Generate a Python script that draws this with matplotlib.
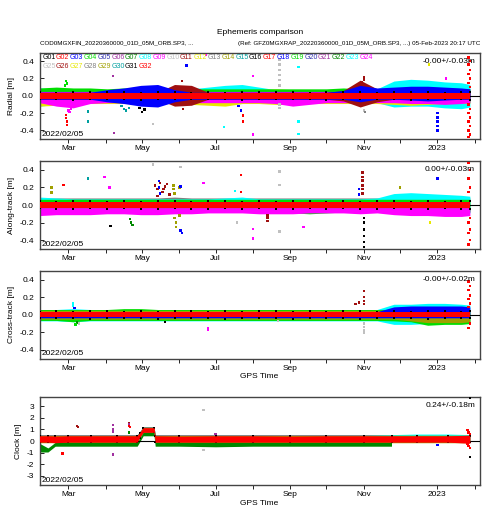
import numpy as np
import matplotlib
matplotlib.use('Agg')
import matplotlib.pyplot as plt
import matplotlib.dates as mdates
from matplotlib.ticker import FuncFormatter

plt.rcParams['font.family'] = ['Liberation Sans', 'DejaVu Sans']
plt.rcParams['axes.unicode_minus'] = False

# satellites and their plot colours (15 colour cycle)
sats = ['G%02d' % i for i in range(1, 33)]
palette = ['#000000', '#ff0000', '#0000ff', '#00dd00', '#3030b0', '#a030a0',
           '#008800', '#00ffff', '#ff00ff', '#c0c0c0', '#a01010', '#e8e800',
           '#808080', '#a0a000', '#00a0a0']

title = 'Ephemeris comparison'
file_left = 'COD0MGXFIN_20220360000_01D_05M_ORB.SP3, ...'
file_right = '(Ref: GFZ0MGXRAP_20220360000_01D_05M_ORB.SP3, ...) 05-Feb-2023 20:17 UTC'
start_label = '2022/02/05'
stats = ['-0.00+/-0.03m', '0.00+/-0.03m', '-0.00+/-0.02m', '0.24+/-0.18m']
ylabels = ['Radial [m]', 'Along-track [m]', 'Cross-track [m]', 'Clock [m]']

# biweekly sample dates of the orbit residual envelopes
grid = ['2022-02-05', '2022-02-19', '2022-03-05', '2022-03-19', '2022-04-02',
        '2022-04-16', '2022-04-30', '2022-05-14', '2022-05-28', '2022-06-11',
        '2022-06-25', '2022-07-09', '2022-07-23', '2022-08-06', '2022-08-20',
        '2022-09-03', '2022-09-17', '2022-10-01', '2022-10-15', '2022-10-29',
        '2022-11-12', '2022-11-26', '2022-12-10', '2022-12-24', '2023-01-07',
        '2023-01-21', '2023-01-28']

# ---- radial envelopes [m]
rad_g08_hi = [0.09, 0.08, 0.08, 0.07, 0.07, 0.07, 0.07, 0.07, 0.07,
              0.08, 0.10, 0.12, 0.13, 0.10, 0.07, 0.07, 0.07, 0.07,
              0.07, 0.07, 0.08, 0.17, 0.19, 0.18, 0.16, 0.15, 0.13]
rad_g08_lo = [-0.12, -0.10, -0.08, -0.08, -0.08, -0.08, -0.08, -0.08, -0.08,
              -0.08, -0.09, -0.10, -0.09, -0.08, -0.08, -0.08, -0.08, -0.08,
              -0.08, -0.08, -0.08, -0.13, -0.12, -0.12, -0.14, -0.15, -0.13]
rad_g12_hi = [0.07, 0.07, 0.07, 0.07, 0.07, 0.07, 0.07, 0.07, 0.07,
              0.07, 0.07, 0.07, 0.07, 0.07, 0.08, 0.07, 0.07, 0.07,
              0.07, 0.07, 0.07, 0.07, 0.07, 0.07, 0.07, 0.07, 0.07]
rad_g12_lo = [-0.12, -0.11, -0.09, -0.09, -0.09, -0.09, -0.09, -0.09, -0.09,
              -0.10, -0.11, -0.12, -0.09, -0.09, -0.10, -0.10, -0.09, -0.09,
              -0.09, -0.09, -0.09, -0.10, -0.11, -0.10, -0.09, -0.09, -0.09]
rad_g04_hi = [0.09, 0.10, 0.09, 0.09, 0.08, 0.09, 0.08, 0.08, 0.08,
              0.08, 0.08, 0.08, 0.08, 0.08, 0.08, 0.08, 0.08, 0.08,
              0.09, 0.08, 0.08, 0.08, 0.08, 0.08, 0.08, 0.08, 0.08]
rad_g04_lo = [-0.07, -0.07, -0.07, -0.07, -0.07, -0.07, -0.07, -0.07, -0.07,
              -0.07, -0.07, -0.07, -0.07, -0.07, -0.07, -0.07, -0.07, -0.07,
              -0.07, -0.07, -0.07, -0.07, -0.07, -0.07, -0.07, -0.07, -0.07]
rad_g09_hi = [0.05, 0.05, 0.05, 0.05, 0.05, 0.05, 0.05, 0.05, 0.05,
              0.05, 0.05, 0.05, 0.05, 0.05, 0.05, 0.05, 0.05, 0.05,
              0.05, 0.05, 0.05, 0.05, 0.05, 0.05, 0.05, 0.05, 0.05]
rad_g09_lo = [-0.08, -0.12, -0.14, -0.09, -0.08, -0.08, -0.08, -0.08, -0.08,
              -0.08, -0.08, -0.08, -0.08, -0.08, -0.09, -0.12, -0.10, -0.08,
              -0.08, -0.08, -0.08, -0.08, -0.09, -0.09, -0.10, -0.09, -0.08]
rad_g11_hi = [0.04, 0.04, 0.04, 0.04, 0.04, 0.04, 0.04, 0.04, 0.13,
              0.12, 0.04, 0.04, 0.04, 0.04, 0.04, 0.04, 0.04, 0.04,
              0.06, 0.18, 0.08, 0.04, 0.04, 0.04, 0.04, 0.04, 0.04]
rad_g11_lo = [-0.04, -0.04, -0.04, -0.04, -0.04, -0.04, -0.04, -0.04, -0.12,
              -0.11, -0.04, -0.04, -0.04, -0.04, -0.04, -0.04, -0.04, -0.04,
              -0.06, -0.13, -0.07, -0.04, -0.04, -0.04, -0.04, -0.04, -0.04]
rad_g03_hi = [0.04, 0.04, 0.04, 0.04, 0.07, 0.09, 0.12, 0.13, 0.07,
              0.04, 0.04, 0.04, 0.04, 0.04, 0.04, 0.04, 0.04, 0.04,
              0.06, 0.12, 0.09, 0.10, 0.11, 0.11, 0.10, 0.09, 0.08]
rad_g03_lo = [-0.04, -0.04, -0.04, -0.04, -0.07, -0.09, -0.12, -0.13, -0.07,
              -0.04, -0.04, -0.04, -0.04, -0.04, -0.04, -0.04, -0.04, -0.04,
              -0.04, -0.07, -0.04, -0.04, -0.05, -0.06, -0.05, -0.04, -0.04]
rad_g01_hi = [0.040, 0.036, 0.042, 0.038, 0.044, 0.040, 0.036, 0.045, 0.040,
              0.037, 0.041, 0.036, 0.043, 0.045, 0.038, 0.041, 0.036, 0.042,
              0.045, 0.040, 0.037, 0.042, 0.045, 0.041, 0.036, 0.042, 0.038]
rad_g01_lo = [-0.040, -0.036, -0.045, -0.041, -0.037, -0.042, -0.045, -0.040, -0.036,
              -0.041, -0.037, -0.042, -0.045, -0.036, -0.041, -0.037, -0.042, -0.045,
              -0.036, -0.041, -0.038, -0.042, -0.045, -0.041, -0.036, -0.042, -0.045]
rad_g32_hi = [0.033, 0.033, 0.033, 0.033, 0.033, 0.033, 0.033, 0.033, 0.033,
              0.033, 0.033, 0.033, 0.033, 0.033, 0.033, 0.033, 0.033, 0.033,
              0.033, 0.033, 0.033, 0.033, 0.033, 0.033, 0.033, 0.033, 0.033]
rad_g32_lo = [-0.033, -0.033, -0.033, -0.033, -0.033, -0.033, -0.033, -0.033, -0.033,
              -0.033, -0.033, -0.033, -0.033, -0.033, -0.033, -0.033, -0.033, -0.033,
              -0.033, -0.033, -0.033, -0.033, -0.033, -0.033, -0.033, -0.033, -0.033]
rad_out_dates = ['2022-02-27', '2022-02-28', '2022-02-26', '2022-02-27', '2022-02-27',
                 '2022-02-28', '2022-02-28', '2022-03-01', '2022-03-02', '2022-03-03',
                 '2022-03-17', '2022-03-17', '2022-04-07', '2022-04-08', '2022-04-14',
                 '2022-04-16', '2022-04-18', '2022-04-20', '2022-05-01', '2022-05-03',
                 '2022-04-29', '2022-05-10', '2022-06-03', '2022-06-04', '2022-06-07',
                 '2022-06-23', '2022-07-08', '2022-07-22', '2022-07-20', '2022-07-24',
                 '2022-07-24', '2022-08-01', '2022-08-01', '2022-08-23', '2022-08-23',
                 '2022-08-23', '2022-08-23', '2022-08-23', '2022-08-23', '2022-08-23',
                 '2022-08-23', '2022-09-08', '2022-09-08', '2022-09-08', '2022-11-01',
                 '2022-11-01', '2022-10-30', '2022-11-01', '2022-11-02', '2022-12-25',
                 '2023-01-01', '2023-01-01', '2023-01-01', '2023-01-01', '2023-01-01',
                 '2023-01-08', '2023-01-27', '2023-01-28', '2023-01-27', '2023-01-28',
                 '2023-01-27', '2023-01-28', '2023-01-27', '2023-01-28', '2023-01-27',
                 '2023-01-28', '2023-01-27', '2023-01-28', '2023-01-27', '2023-01-28',
                 '2023-01-27', '2023-01-28', '2023-01-27']
rad_out_sats = ['G04', 'G04', 'G04', 'G02', 'G02', 'G02', 'G02', 'G09', 'G09', 'G09',
                'G15', 'G15', 'G06', 'G06', 'G15', 'G15', 'G15', 'G15', 'G01', 'G01',
                'G01', 'G10', 'G11', 'G11', 'G03', 'G09', 'G08', 'G03', 'G03', 'G02',
                'G02', 'G09', 'G09', 'G10', 'G10', 'G10', 'G10', 'G10', 'G10', 'G10',
                'G10', 'G08', 'G08', 'G08', 'G11', 'G11', 'G11', 'G10', 'G13', 'G12',
                'G03', 'G03', 'G03', 'G03', 'G03', 'G09', 'G32', 'G32', 'G32', 'G32',
                'G32', 'G32', 'G32', 'G32', 'G32', 'G32', 'G32', 'G32', 'G32', 'G32',
                'G32', 'G32', 'G32']
rad_out_vals = [0.17, 0.14, 0.12, -0.22, -0.26, -0.30, -0.34, -0.17, -0.19, -0.15,
                -0.18, -0.30, 0.23, -0.43, -0.12, -0.15, -0.17, -0.14, -0.19, -0.16,
                -0.14, -0.33, 0.17, -0.15, 0.35, 0.47, -0.36, -0.17, -0.12, -0.23,
                -0.30, 0.23, -0.45, 0.42, 0.36, 0.30, 0.24, 0.18, 0.12, -0.10,
                -0.14, 0.33, -0.30, -0.44, 0.22, 0.19, 0.16, -0.17, -0.19, 0.36,
                -0.20, -0.25, -0.30, -0.35, -0.40, 0.20, 0.44, 0.40, 0.36, 0.30,
                0.25, 0.20, 0.15, 0.10, -0.10, -0.15, -0.20, -0.25, -0.30, -0.35,
                -0.40, -0.45, -0.48]

# ---- along-track envelopes [m]
al_g13_hi = [0.08, 0.08, 0.08, 0.08, 0.08, 0.08, 0.08, 0.08, 0.09,
             0.08, 0.08, 0.08, 0.08, 0.08, 0.08, 0.08, 0.08, 0.08,
             0.08, 0.08, 0.08, 0.08, 0.08, 0.08, 0.08, 0.08, 0.08]
al_g13_lo = [-0.06, -0.06, -0.06, -0.06, -0.06, -0.06, -0.06, -0.06, -0.06,
             -0.06, -0.06, -0.06, -0.06, -0.06, -0.06, -0.06, -0.06, -0.06,
             -0.06, -0.06, -0.06, -0.06, -0.06, -0.06, -0.06, -0.06, -0.06]
al_g08_hi = [0.09, 0.08, 0.07, 0.07, 0.07, 0.07, 0.07, 0.07, 0.07,
             0.07, 0.07, 0.08, 0.09, 0.07, 0.07, 0.07, 0.07, 0.07,
             0.07, 0.07, 0.08, 0.13, 0.14, 0.13, 0.12, 0.11, 0.10]
al_g08_lo = [-0.07, -0.07, -0.07, -0.07, -0.07, -0.07, -0.07, -0.07, -0.07,
             -0.07, -0.07, -0.07, -0.07, -0.07, -0.07, -0.07, -0.07, -0.07,
             -0.07, -0.07, -0.07, -0.09, -0.10, -0.10, -0.10, -0.09, -0.09]
al_g04_hi = [0.065, 0.065, 0.065, 0.065, 0.065, 0.065, 0.065, 0.065, 0.065,
             0.065, 0.065, 0.065, 0.065, 0.065, 0.065, 0.065, 0.065, 0.065,
             0.065, 0.065, 0.065, 0.065, 0.065, 0.065, 0.065, 0.065, 0.065]
al_g04_lo = [-0.08, -0.08, -0.08, -0.08, -0.08, -0.09, -0.09, -0.08, -0.08,
             -0.08, -0.08, -0.08, -0.08, -0.08, -0.08, -0.09, -0.10, -0.09,
             -0.08, -0.08, -0.08, -0.08, -0.08, -0.08, -0.08, -0.08, -0.08]
al_g09_hi = [-0.03, -0.03, -0.03, -0.03, -0.03, -0.03, -0.03, -0.03, -0.03,
             -0.03, -0.03, -0.03, -0.03, -0.03, -0.03, -0.03, -0.03, -0.03,
             -0.03, -0.03, -0.03, -0.03, -0.03, -0.03, -0.03, -0.03, -0.03]
al_g09_lo = [-0.12, -0.11, -0.11, -0.11, -0.10, -0.10, -0.11, -0.11, -0.10,
             -0.10, -0.09, -0.09, -0.09, -0.10, -0.10, -0.10, -0.09, -0.09,
             -0.09, -0.10, -0.09, -0.11, -0.12, -0.12, -0.13, -0.13, -0.12]
al_g01_hi = [0.040, 0.036, 0.042, 0.045, 0.037, 0.041, 0.036, 0.045, 0.040,
             0.037, 0.041, 0.045, 0.036, 0.042, 0.038, 0.041, 0.045, 0.037,
             0.042, 0.036, 0.041, 0.045, 0.037, 0.042, 0.036, 0.045, 0.040]
al_g01_lo = [-0.037, -0.041, -0.045, -0.036, -0.042, -0.038, -0.045, -0.041, -0.036,
             -0.042, -0.045, -0.037, -0.041, -0.036, -0.042, -0.045, -0.037, -0.041,
             -0.036, -0.045, -0.042, -0.037, -0.041, -0.045, -0.036, -0.042, -0.045]
al_g32_hi = [0.033, 0.033, 0.033, 0.033, 0.033, 0.033, 0.033, 0.033, 0.033,
             0.033, 0.033, 0.033, 0.033, 0.033, 0.033, 0.033, 0.033, 0.033,
             0.033, 0.033, 0.033, 0.033, 0.033, 0.033, 0.033, 0.033, 0.033]
al_g32_lo = [-0.033, -0.033, -0.033, -0.033, -0.033, -0.033, -0.033, -0.033, -0.033,
             -0.033, -0.033, -0.033, -0.033, -0.033, -0.033, -0.033, -0.033, -0.033,
             -0.033, -0.033, -0.033, -0.033, -0.033, -0.033, -0.033, -0.033, -0.033]
al_out_dates = ['2022-02-15', '2022-02-15', '2022-02-25', '2022-03-17', '2022-03-31',
                '2022-04-04', '2022-04-05', '2022-04-22', '2022-04-23', '2022-04-21',
                '2022-05-10', '2022-05-12', '2022-05-14', '2022-05-16', '2022-05-18',
                '2022-05-20', '2022-05-22', '2022-05-24', '2022-05-14', '2022-05-19',
                '2022-05-15', '2022-05-15', '2022-05-16', '2022-05-27', '2022-05-27',
                '2022-05-28', '2022-05-28', '2022-05-29', '2022-05-29', '2022-06-01',
                '2022-06-01', '2022-06-02', '2022-06-02', '2022-06-03', '2022-06-02',
                '2022-06-21', '2022-07-19', '2022-07-17', '2022-07-22', '2022-07-22',
                '2022-08-01', '2022-08-01', '2022-08-13', '2022-08-13', '2022-08-13',
                '2022-08-23', '2022-08-23', '2022-08-23', '2022-09-12', '2022-10-31',
                '2022-10-31', '2022-10-31', '2022-10-31', '2022-10-31', '2022-10-31',
                '2022-11-01', '2022-11-01', '2022-11-01', '2022-11-01', '2022-11-01',
                '2022-11-01', '2022-10-28', '2022-10-28', '2022-12-01', '2023-01-01',
                '2022-12-26', '2023-01-27', '2023-01-28', '2023-01-27', '2023-01-28',
                '2023-01-27', '2023-01-28', '2023-01-27', '2023-01-28', '2023-01-27',
                '2023-01-28', '2023-01-27']
al_out_sats = ['G14', 'G14', 'G02', 'G15', 'G09', 'G09', 'G01', 'G07', 'G07', 'G07',
               'G10', 'G11', 'G11', 'G11', 'G11', 'G11', 'G11', 'G11', 'G11', 'G11',
               'G03', 'G03', 'G03', 'G14', 'G14', 'G14', 'G14', 'G14', 'G14', 'G14',
               'G14', 'G03', 'G03', 'G03', 'G10', 'G09', 'G10', 'G08', 'G02', 'G02',
               'G09', 'G09', 'G11', 'G11', 'G11', 'G10', 'G10', 'G10', 'G09', 'G11',
               'G11', 'G11', 'G11', 'G11', 'G11', 'G01', 'G01', 'G01', 'G01', 'G01',
               'G01', 'G03', 'G03', 'G14', 'G03', 'G12', 'G32', 'G32', 'G32', 'G32',
               'G32', 'G32', 'G32', 'G32', 'G32', 'G32', 'G32']
al_out_vals = [0.20, 0.14, 0.23, 0.30, 0.32, 0.20, -0.24, -0.20, -0.23, -0.16,
               0.46, 0.22, 0.18, 0.25, 0.15, 0.21, 0.24, 0.12, 0.10, 0.18,
               0.27, 0.20, 0.13, 0.22, 0.18, 0.13, -0.15, -0.20, -0.25, 0.20,
               -0.12, 0.21, -0.29, -0.32, 0.43, 0.25, -0.20, 0.16, 0.34, 0.15,
               -0.27, -0.38, -0.12, -0.15, -0.18, 0.38, 0.23, -0.30, -0.25, 0.37,
               0.32, 0.28, 0.22, 0.18, 0.13, -0.15, -0.20, -0.28, -0.35, -0.42,
               -0.48, 0.18, 0.12, 0.20, 0.30, -0.20, 0.48, 0.40, 0.30, 0.20,
               0.15, -0.15, -0.20, -0.28, -0.32, -0.40, -0.45]

# ---- cross-track envelopes [m]
cr_g08_hi = [0.06, 0.06, 0.07, 0.06, 0.06, 0.06, 0.06, 0.06, 0.06,
             0.06, 0.06, 0.06, 0.06, 0.06, 0.06, 0.06, 0.06, 0.06,
             0.06, 0.06, 0.06, 0.12, 0.12, 0.13, 0.13, 0.12, 0.11]
cr_g08_lo = [-0.07, -0.07, -0.08, -0.07, -0.07, -0.07, -0.07, -0.07, -0.07,
             -0.07, -0.07, -0.07, -0.07, -0.07, -0.07, -0.07, -0.07, -0.07,
             -0.07, -0.07, -0.07, -0.11, -0.11, -0.10, -0.09, -0.09, -0.08]
cr_g04_hi = [0.06, 0.06, 0.06, 0.06, 0.06, 0.07, 0.07, 0.06, 0.06,
             0.06, 0.06, 0.06, 0.06, 0.06, 0.06, 0.06, 0.06, 0.06,
             0.06, 0.06, 0.06, 0.06, 0.06, 0.06, 0.06, 0.06, 0.06]
cr_g04_lo = [-0.065, -0.065, -0.08, -0.065, -0.065, -0.065, -0.065, -0.065, -0.065,
             -0.065, -0.065, -0.065, -0.065, -0.065, -0.065, -0.065, -0.065, -0.065,
             -0.065, -0.065, -0.065, -0.07, -0.08, -0.12, -0.11, -0.11, -0.10]
cr_g14_hi = [0.05, 0.05, 0.05, 0.05, 0.05, 0.05, 0.05, 0.05, 0.05,
             0.05, 0.05, 0.05, 0.05, 0.05, 0.05, 0.05, 0.05, 0.05,
             0.05, 0.05, 0.05, 0.05, 0.05, 0.05, 0.05, 0.05, 0.05]
cr_g14_lo = [-0.05, -0.05, -0.05, -0.05, -0.05, -0.05, -0.05, -0.05, -0.05,
             -0.05, -0.05, -0.05, -0.05, -0.05, -0.05, -0.05, -0.05, -0.05,
             -0.05, -0.05, -0.05, -0.05, -0.07, -0.09, -0.09, -0.09, -0.08]
cr_g03_hi = [0.035, 0.035, 0.035, 0.035, 0.035, 0.035, 0.035, 0.035, 0.035,
             0.035, 0.035, 0.035, 0.035, 0.035, 0.035, 0.035, 0.035, 0.035,
             0.035, 0.035, 0.035, 0.09, 0.10, 0.10, 0.10, 0.10, 0.09]
cr_g03_lo = [-0.035, -0.035, -0.035, -0.035, -0.035, -0.035, -0.035, -0.035, -0.035,
             -0.035, -0.035, -0.035, -0.035, -0.035, -0.035, -0.035, -0.035, -0.035,
             -0.035, -0.035, -0.035, -0.035, -0.035, -0.035, -0.035, -0.035, -0.035]
cr_g01_hi = [0.036, 0.041, 0.037, 0.042, 0.045, 0.036, 0.041, 0.037, 0.042,
             0.045, 0.036, 0.041, 0.037, 0.042, 0.045, 0.036, 0.041, 0.037,
             0.042, 0.045, 0.036, 0.041, 0.037, 0.042, 0.045, 0.036, 0.041]
cr_g01_lo = [-0.036, -0.041, -0.037, -0.045, -0.042, -0.036, -0.041, -0.045, -0.037,
             -0.042, -0.036, -0.045, -0.041, -0.037, -0.042, -0.045, -0.036, -0.041,
             -0.037, -0.045, -0.042, -0.036, -0.041, -0.045, -0.037, -0.042, -0.036]
cr_g32_hi = [0.032, 0.032, 0.032, 0.032, 0.032, 0.032, 0.032, 0.032, 0.032,
             0.032, 0.032, 0.032, 0.032, 0.032, 0.032, 0.032, 0.032, 0.032,
             0.032, 0.032, 0.032, 0.032, 0.032, 0.032, 0.032, 0.032, 0.032]
cr_g32_lo = [-0.030, -0.030, -0.030, -0.030, -0.030, -0.030, -0.030, -0.030, -0.030,
             -0.030, -0.030, -0.030, -0.030, -0.030, -0.030, -0.030, -0.030, -0.030,
             -0.030, -0.030, -0.030, -0.030, -0.030, -0.030, -0.030, -0.030, -0.030]
cr_out_dates = ['2022-03-05', '2022-03-05', '2022-03-06', '2022-03-08', '2022-03-07',
                '2022-03-10', '2022-05-20', '2022-06-25', '2022-06-25', '2022-10-25',
                '2022-10-28', '2022-11-01', '2022-11-01', '2022-11-01', '2022-11-01',
                '2022-11-01', '2022-11-01', '2022-11-01', '2022-11-01', '2022-08-22',
                '2023-01-27', '2023-01-28', '2023-01-27', '2023-01-28', '2023-01-27',
                '2023-01-28', '2023-01-27', '2023-01-28', '2023-01-27']
cr_out_sats = ['G08', 'G08', 'G03', 'G07', 'G04', 'G10', 'G01', 'G09', 'G09', 'G11',
               'G11', 'G11', 'G11', 'G11', 'G11', 'G10', 'G10', 'G10', 'G10', 'G10',
               'G32', 'G32', 'G32', 'G32', 'G32', 'G32', 'G32', 'G32', 'G32']
cr_out_vals = [0.13, 0.10, 0.08, -0.09, -0.11, -0.10, -0.08, -0.15, -0.17, 0.12,
               0.14, 0.27, 0.20, 0.16, 0.12, -0.10, -0.14, -0.18, -0.21, -0.07,
               0.38, 0.33, 0.28, 0.22, 0.18, 0.13, 0.09, -0.10, -0.15]

# ---- clock envelopes [m]
clk_dates = ['2022-02-05', '2022-02-12', '2022-02-18', '2022-03-01', '2022-03-20',
             '2022-04-10', '2022-04-27', '2022-04-29', '2022-05-02', '2022-05-11',
             '2022-05-12', '2022-06-01', '2022-07-01', '2022-08-01', '2022-09-01',
             '2022-10-01', '2022-11-01', '2022-11-24', '2022-12-15', '2023-01-10',
             '2023-01-28']
clk_g06_hi = [0.55, 0.55, 0.55, 0.55, 0.55, 0.55, 0.55, 0.80, 1.25, 1.25, 0.55,
              0.55, 0.55, 0.55, 0.55, 0.55, 0.55, 0.55, 0.55, 0.55, 0.55]
clk_g06_lo = [-0.12, -0.12, -0.12, -0.12, -0.12, -0.12, -0.12, 0.25, 0.70, 0.70, -0.12,
              -0.12, -0.12, -0.12, -0.12, -0.12, -0.12, -0.12, -0.12, -0.12, -0.12]
clk_g08_hi = [0.50, 0.50, 0.50, 0.50, 0.50, 0.50, 0.50, 0.75, 1.20, 1.20, 0.50,
              0.50, 0.50, 0.50, 0.50, 0.50, 0.50, 0.55, 0.60, 0.60, 0.55]
clk_g08_lo = [-0.10, -0.10, -0.10, -0.10, -0.10, -0.10, -0.10, 0.25, 0.70, 0.70, -0.10,
              -0.10, -0.10, -0.10, -0.10, -0.10, -0.10, -0.10, -0.12, -0.12, -0.12]
clk_g14_hi = [0.50, 0.50, 0.50, 0.50, 0.50, 0.50, 0.50, 0.75, 1.20, 1.20, 0.50,
              0.50, 0.50, 0.50, 0.50, 0.50, 0.50, 0.50, 0.50, 0.50, 0.50]
clk_g14_lo = [-0.15, -0.15, -0.15, -0.15, -0.15, -0.15, -0.15, 0.25, 0.70, 0.70, -0.15,
              -0.15, -0.15, -0.15, -0.15, -0.15, -0.15, -0.15, -0.15, -0.15, -0.15]
clk_g07_dates = ['2022-02-05', '2022-02-12', '2022-02-18', '2022-03-01', '2022-03-20',
                 '2022-04-10', '2022-04-27', '2022-04-29', '2022-05-02', '2022-05-11',
                 '2022-05-12', '2022-06-01', '2022-07-01', '2022-08-01', '2022-09-01',
                 '2022-10-01', '2022-11-01', '2022-11-24']
clk_g07_hi = [-0.20, -0.60, -0.12, -0.12, -0.12, -0.12, -0.12, 0.20, 0.75, 0.75,
              -0.12, -0.12, -0.12, -0.12, -0.12, -0.12, -0.12, -0.12]
clk_g07_lo = [-0.95, -0.95, -0.45, -0.45, -0.45, -0.45, -0.45, -0.10, 0.45, 0.45,
              -0.45, -0.45, -0.50, -0.45, -0.45, -0.45, -0.45, -0.45]
clk_g01_hi = [0.45, 0.40, 0.45, 0.40, 0.45, 0.40, 0.45, 0.70, 1.15, 1.10, 0.45,
              0.40, 0.45, 0.40, 0.45, 0.40, 0.45, 0.40, 0.45, 0.40, 0.45]
clk_g01_lo = [-0.10, -0.05, -0.10, -0.05, -0.10, -0.05, -0.10, 0.30, 0.75, 0.75, -0.05,
              -0.10, -0.05, -0.10, -0.05, -0.10, -0.05, -0.10, -0.05, -0.10, -0.05]
clk_g32_hi = [0.45, 0.45, 0.42, 0.45, 0.45, 0.45, 0.45, 0.70, 1.15, 1.15, 0.45,
              0.42, 0.45, 0.45, 0.42, 0.45, 0.45, 0.45, 0.45, 0.45, 0.50]
clk_g32_lo = [-0.10, -0.10, -0.15, -0.10, -0.10, -0.10, -0.10, 0.30, 0.75, 0.75, -0.10,
              -0.10, -0.10, -0.10, -0.10, -0.10, -0.10, -0.10, -0.10, -0.10, -0.20]
clk_out_dates = ['2022-02-24', '2022-03-08', '2022-03-09', '2022-04-07', '2022-04-07',
                 '2022-04-07', '2022-04-07', '2022-04-20', '2022-04-20', '2022-04-21',
                 '2022-04-20', '2022-04-20', '2022-06-21', '2022-06-21', '2022-07-01',
                 '2023-01-01', '2023-01-28', '2023-01-28', '2023-01-26', '2023-01-27',
                 '2023-01-28', '2023-01-26', '2023-01-27', '2023-01-28']
clk_out_sats = ['G02', 'G11', 'G11', 'G06', 'G06', 'G06', 'G06', 'G11', 'G02', 'G02',
                'G06', 'G07', 'G10', 'G10', 'G06', 'G03', 'G01', 'G01', 'G32', 'G32',
                'G32', 'G32', 'G32', 'G32']
clk_out_vals = [-1.07, 1.30, 1.22, 1.40, 1.00, 0.80, -1.15, 1.50, 1.30, 1.20,
                1.45, 0.75, 2.70, -0.80, 0.60, -0.35, 3.75, -1.40, 0.95, 0.75,
                0.60, -0.25, -0.45, -0.60]


def sat_color(s):
    return palette[(int(s[1:]) - 1) % len(palette)]


def dt(lst):
    return np.array(lst, dtype='datetime64[h]')


def month_fmt(x, pos):
    d = mdates.num2date(x)
    return str(d.year) if d.month == 1 else d.strftime('%b')


def draw_panel(ax, dates, layers, g01, g32, outs, ylim, yticks, yfmt,
               ylabel, stat, gps_label):
    x = dt(dates)
    for sat, hi, lo, xd in layers:
        xx = dt(xd) if xd is not None else x
        ax.fill_between(xx, lo, hi, color=sat_color(sat), lw=0, zorder=2)
    ax.axhline(0, color='black', lw=0.8, zorder=3)
    ax.scatter(x, g01[0], s=2, marker='s', color=sat_color('G01'), lw=0, zorder=3)
    ax.scatter(x, g01[1], s=2, marker='s', color=sat_color('G01'), lw=0, zorder=3)
    ax.fill_between(x, g32[1], g32[0], color=sat_color('G32'), lw=0, zorder=4)
    od, os_, ov = outs
    ax.scatter(dt(od), ov, s=3, marker='s', lw=0, zorder=5,
               c=[sat_color(s) for s in os_])

    ax.set_xlim(np.datetime64('2022-02-05'), np.datetime64('2023-02-05'))
    ax.set_ylim(*ylim)
    ax.set_yticks(yticks)
    ax.yaxis.set_major_formatter(FuncFormatter(lambda v, p: yfmt % v))
    ax.xaxis.set_major_locator(mdates.MonthLocator(bymonth=[1, 3, 5, 7, 9, 11]))
    ax.xaxis.set_minor_locator(mdates.MonthLocator(bymonth=[2, 4, 6, 8, 10, 12]))
    ax.xaxis.set_major_formatter(FuncFormatter(month_fmt))
    ax.tick_params(axis='x', which='both', direction='out', length=3, width=0.6,
                   labelsize=6, pad=1.5)
    ax.tick_params(axis='y', direction='in', length=3, width=0.6, labelsize=6, pad=4)
    for sp in ax.spines.values():
        sp.set_color('#444444')
        sp.set_linewidth(1.0)
    ax.set_ylabel(ylabel, fontsize=6, labelpad=3)
    if gps_label:
        ax.set_xlabel('GPS Time', fontsize=6, labelpad=1)
    ax.text(0.005, 0.012, start_label, transform=ax.transAxes, fontsize=6,
            ha='left', va='bottom', zorder=7)
    ax.text(0.99, 0.90, stat, transform=ax.transAxes, fontsize=6,
            ha='right', va='center', zorder=7)


W, H = 490.0, 520.0
fig = plt.figure(figsize=(4.9, 5.2), dpi=100)


def box(top, bottom):
    return [39.5 / W, 1 - bottom / H, 440.0 / W, (bottom - top) / H]


ax1 = fig.add_axes(box(52.5, 139))
ax2 = fig.add_axes(box(161, 249))
ax3 = fig.add_axes(box(271, 358.5))
ax4 = fig.add_axes(box(397, 485))

draw_panel(ax1, grid,
           [('G08', rad_g08_hi, rad_g08_lo, None), ('G12', rad_g12_hi, rad_g12_lo, None),
            ('G04', rad_g04_hi, rad_g04_lo, None), ('G09', rad_g09_hi, rad_g09_lo, None),
            ('G11', rad_g11_hi, rad_g11_lo, None), ('G03', rad_g03_hi, rad_g03_lo, None)],
           (rad_g01_hi, rad_g01_lo), (rad_g32_hi, rad_g32_lo),
           (rad_out_dates, rad_out_sats, rad_out_vals),
           (-0.5, 0.5), [-0.4, -0.2, 0.0, 0.2, 0.4], '%.1f', ylabels[0], stats[0], False)
draw_panel(ax2, grid,
           [('G13', al_g13_hi, al_g13_lo, None), ('G08', al_g08_hi, al_g08_lo, None),
            ('G04', al_g04_hi, al_g04_lo, None), ('G09', al_g09_hi, al_g09_lo, None)],
           (al_g01_hi, al_g01_lo), (al_g32_hi, al_g32_lo),
           (al_out_dates, al_out_sats, al_out_vals),
           (-0.5, 0.5), [-0.4, -0.2, 0.0, 0.2, 0.4], '%.1f', ylabels[1], stats[1], False)
draw_panel(ax3, grid,
           [('G08', cr_g08_hi, cr_g08_lo, None), ('G04', cr_g04_hi, cr_g04_lo, None),
            ('G14', cr_g14_hi, cr_g14_lo, None), ('G03', cr_g03_hi, cr_g03_lo, None)],
           (cr_g01_hi, cr_g01_lo), (cr_g32_hi, cr_g32_lo),
           (cr_out_dates, cr_out_sats, cr_out_vals),
           (-0.5, 0.5), [-0.4, -0.2, 0.0, 0.2, 0.4], '%.1f', ylabels[2], stats[2], True)
draw_panel(ax4, clk_dates,
           [('G06', clk_g06_hi, clk_g06_lo, None), ('G08', clk_g08_hi, clk_g08_lo, None),
            ('G14', clk_g14_hi, clk_g14_lo, None),
            ('G07', clk_g07_hi, clk_g07_lo, clk_g07_dates)],
           (clk_g01_hi, clk_g01_lo), (clk_g32_hi, clk_g32_lo),
           (clk_out_dates, clk_out_sats, clk_out_vals),
           (-3.8, 3.8), [-3, -2, -1, 0, 1, 2, 3], '%d', ylabels[3], stats[3], True)

# satellite legend in the radial panel
for i, s in enumerate(sats):
    row, col = divmod(i, 24)
    ax1.text(0.006 + col * 0.03136, 0.94 - row * 0.104, s, color=sat_color(s),
             fontsize=5, ha='left', va='center', transform=ax1.transAxes, zorder=8)

fig.text(260 / W, 1 - 32 / H, title, ha='center', va='center', fontsize=6)
fig.text(40 / W, 1 - 43 / H, file_left, ha='left', va='center', fontsize=4.5)
fig.text(480 / W, 1 - 43 / H, file_right, ha='right', va='center', fontsize=4.5)

fig.savefig('out.png', dpi=100)
